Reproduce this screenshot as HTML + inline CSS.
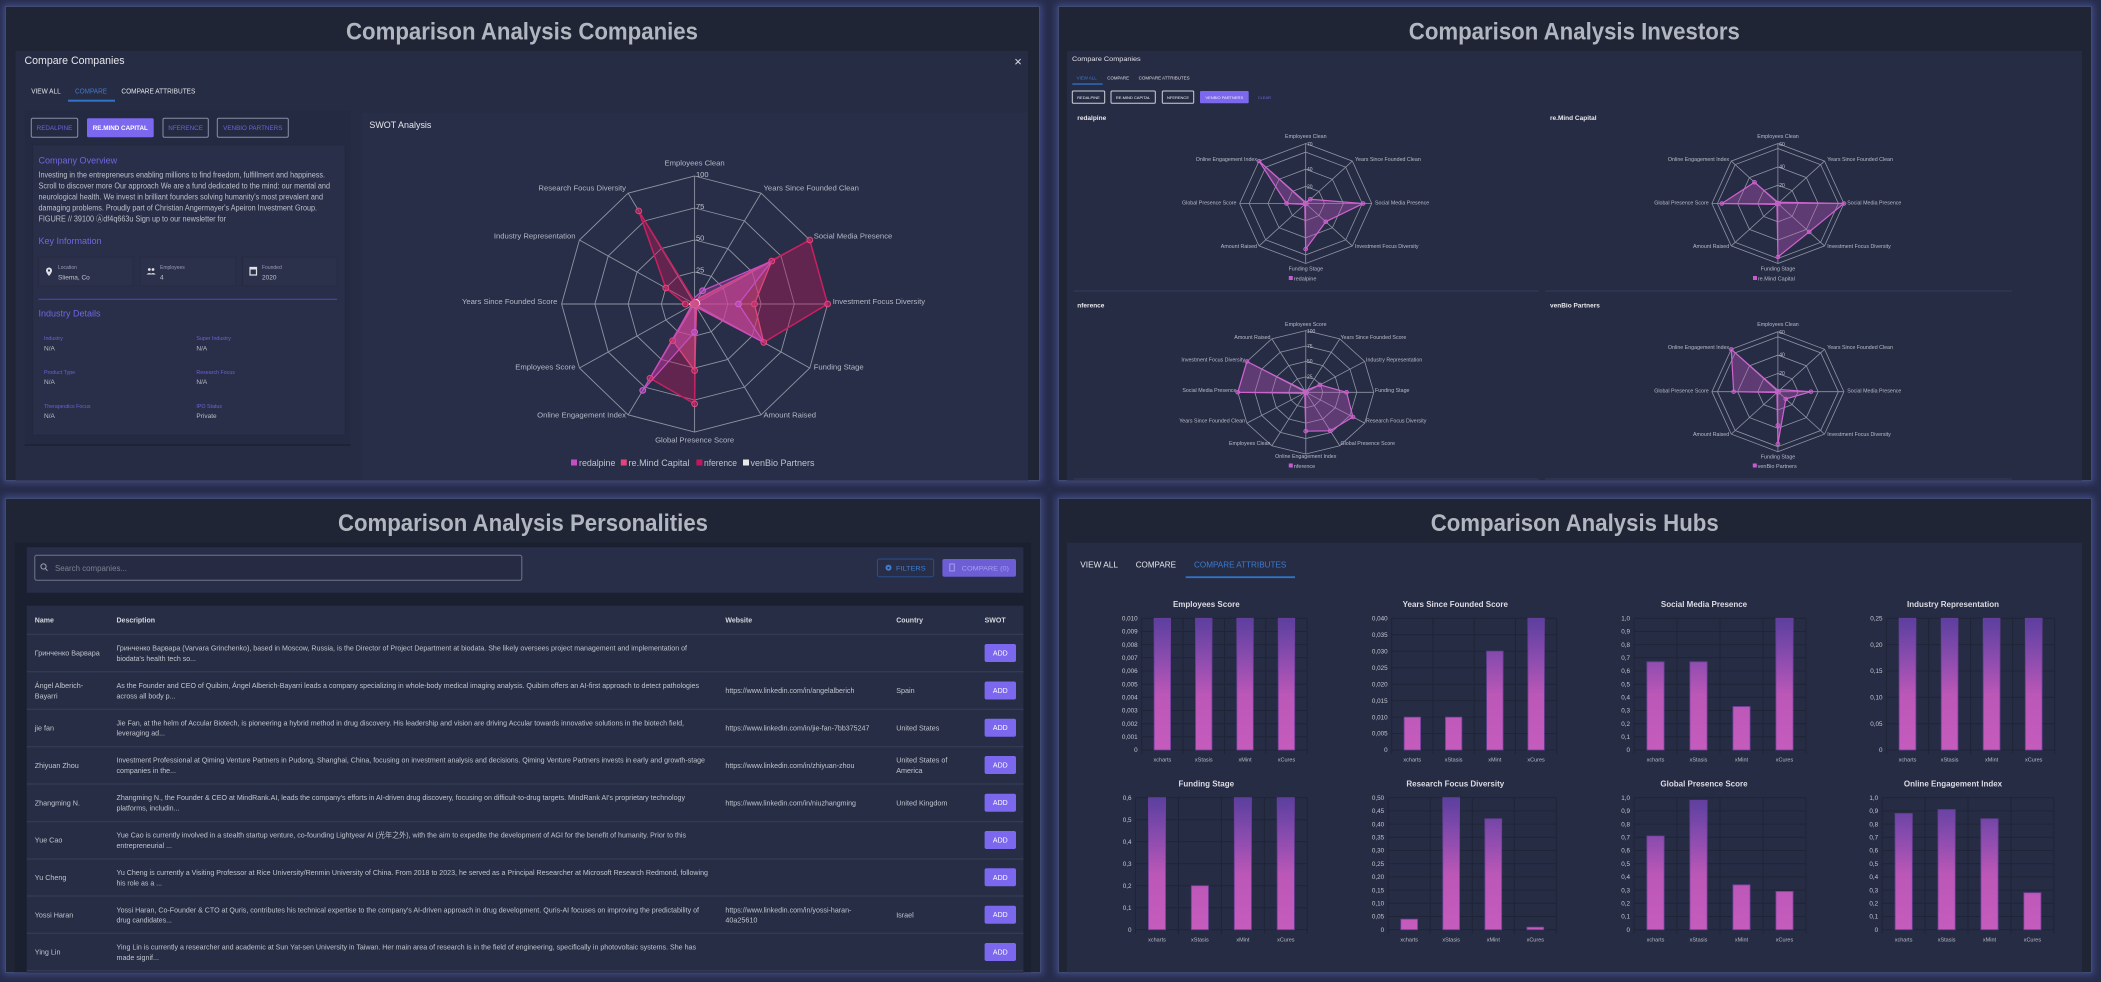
<!DOCTYPE html>
<html><head><meta charset="utf-8">
<style>
html,body{margin:0;padding:0;width:2101px;height:982px;overflow:hidden;background:#272d4c;}
.p{position:absolute;background:#1f2535;box-shadow:0 0 6px 2px rgba(78,92,168,.6);border:1px solid #414a70;box-sizing:border-box;}
svg{position:absolute;left:0;top:0;}
svg *{vector-effect:non-scaling-stroke;}
text{font-family:"Liberation Sans","Noto Sans CJK SC",sans-serif;}
</style></head><body>
<div class="p" style="left:5px;top:6px;width:1035px;height:475px"></div>
<div class="p" style="left:1058px;top:6px;width:1034px;height:475px"></div>
<div class="p" style="left:5px;top:498px;width:1036px;height:475px"></div>
<div class="p" style="left:1058px;top:498px;width:1034px;height:475px"></div>
<svg width="2101" height="982" viewBox="0 0 2101 982" xmlns="http://www.w3.org/2000/svg">
<defs>
<polygon id="d12" points="0,-1 .5,-.866 .866,-.5 1,0 .866,.5 .5,.866 0,1 -.5,.866 -.866,.5 -1,0 -.866,-.5 -.5,-.866"/>
<path id="s12" d="M0 0V-1M0 0L.5 -.866M0 0L.866 -.5M0 0H1M0 0L.866 .5M0 0L.5 .866M0 0V1M0 0L-.5 .866M0 0L-.866 .5M0 0H-1M0 0L-.866 -.5M0 0L-.5 -.866"/>
<polygon id="o8" points="0,-1 .707,-.707 1,0 .707,.707 0,1 -.707,.707 -1,0 -.707,-.707"/>
<path id="s8" d="M0 0V-1M0 0L.707 -.707M0 0H1M0 0L.707 .707M0 0V1M0 0L-.707 .707M0 0H-1M0 0L-.707 -.707"/>
<linearGradient id="g1" gradientUnits="userSpaceOnUse" x1="0" y1="618.3" x2="0" y2="750"><stop offset="0" stop-color="#5b3f9f"/><stop offset=".3" stop-color="#8a4cae"/><stop offset=".58" stop-color="#bb57b7"/><stop offset="1" stop-color="#c55cbd"/></linearGradient>
<linearGradient id="g2" gradientUnits="userSpaceOnUse" x1="0" y1="797.7" x2="0" y2="929.7"><stop offset="0" stop-color="#5b3f9f"/><stop offset=".3" stop-color="#8a4cae"/><stop offset=".58" stop-color="#bb57b7"/><stop offset="1" stop-color="#c55cbd"/></linearGradient>
</defs>

<!-- ============ TOP LEFT: Companies ============ -->
<text x="522" y="39.5" text-anchor="middle" font-size="24" font-weight="bold" fill="#b2b6c0" textLength="352" lengthAdjust="spacingAndGlyphs">Comparison Analysis Companies</text>
<rect x="15.6" y="51" width="1012.4" height="429.5" fill="#272c45"/>
<text x="24.5" y="64" font-size="11" fill="#e6e6ea" textLength="100" lengthAdjust="spacingAndGlyphs">Compare Companies</text>
<text x="1018" y="66" font-size="13" fill="#dcdce0" text-anchor="middle">×</text>
<text x="31.2" y="93.3" font-size="7" fill="#e6e6ea" textLength="29.5" lengthAdjust="spacingAndGlyphs">VIEW ALL</text>
<text x="75" y="93.3" font-size="7" fill="#3f78c8" textLength="32" lengthAdjust="spacingAndGlyphs">COMPARE</text>
<text x="121.4" y="93.3" font-size="7" fill="#e6e6ea" textLength="74" lengthAdjust="spacingAndGlyphs">COMPARE ATTRIBUTES</text>
<rect x="68" y="99.7" width="47" height="2" fill="#2f74c8"/>
<rect x="24.5" y="110" width="326" height="335" fill="#252a43"/>
<line x1="24.5" y1="445" x2="350.5" y2="445" stroke="#1c2134" stroke-width="1.5"/>
<rect x="31.3" y="118.3" width="46.4" height="19" rx="1.5" fill="none" stroke="#8a8ea3"/>
<text x="54.5" y="130" font-size="6.3" fill="#6c62d8" text-anchor="middle">REDALPINE</text>
<rect x="87" y="118.3" width="66.7" height="19" rx="1.5" fill="#7b68ee"/>
<text x="120.3" y="130" font-size="6.3" font-weight="bold" fill="#ffffff" text-anchor="middle">RE.MIND CAPITAL</text>
<rect x="163" y="118.3" width="45.3" height="19" rx="1.5" fill="none" stroke="#8a8ea3"/>
<text x="185.6" y="130" font-size="6.3" fill="#6c62d8" text-anchor="middle">NFERENCE</text>
<rect x="217.3" y="118.3" width="71" height="19" rx="1.5" fill="none" stroke="#8a8ea3"/>
<text x="252.8" y="130" font-size="6.3" fill="#6c62d8" text-anchor="middle">VENBIO PARTNERS</text>
<rect x="32.7" y="145" width="312.5" height="290" fill="#2a2f49" stroke="#23283e"/>
<text x="38.5" y="163.5" font-size="9.5" fill="#7066e0" textLength="78.6" lengthAdjust="spacingAndGlyphs">Company Overview</text>
<g font-size="7.8" fill="#bcc0ca">
<text x="38.5" y="177.3" textLength="286.5" lengthAdjust="spacingAndGlyphs">Investing in the entrepreneurs enabling millions to find freedom, fulfillment and happiness.</text>
<text x="38.5" y="188.6" textLength="291.5" lengthAdjust="spacingAndGlyphs">Scroll to discover more Our approach We are a fund dedicated to the mind: our mental and</text>
<text x="38.5" y="199.6" textLength="284.5" lengthAdjust="spacingAndGlyphs">neurological health. We invest in brilliant founders solving humanity's most prevalent and</text>
<text x="38.5" y="210.6" textLength="278.5" lengthAdjust="spacingAndGlyphs">damaging problems. Proudly part of Christian Angermayer's Apeiron Investment Group.</text>
<text x="38.5" y="221.3" textLength="187.5" lengthAdjust="spacingAndGlyphs">FIGURE // 39100 Ⓐdf4q663u Sign up to our newsletter for</text>
</g>
<text x="38.5" y="243.8" font-size="9.5" fill="#7066e0" textLength="63" lengthAdjust="spacingAndGlyphs">Key Information</text>
<rect x="38.4" y="257" width="94.6" height="29" fill="#2c314b" stroke="#252a40"/>
<rect x="140" y="257" width="96" height="29" fill="#2c314b" stroke="#252a40"/>
<rect x="242.4" y="257" width="94.6" height="29" fill="#2c314b" stroke="#252a40"/>
<path d="M49 267.5a3 3 0 0 1 3 3c0 2.2-3 5.5-3 5.5s-3-3.3-3-5.5a3 3 0 0 1 3-3z" fill="#e0e0e6"/>
<circle cx="49" cy="270.5" r="1.1" fill="#2c314b"/>
<circle cx="149.3" cy="269.5" r="1.4" fill="#e0e0e6"/><circle cx="153" cy="269.5" r="1.4" fill="#e0e0e6"/>
<path d="M146.5 274.5q2.8-3 5.6 0zM150.2 274.5q2.8-3 5.6 0z" fill="#e0e0e6"/>
<rect x="250" y="267.5" width="6.5" height="7.5" fill="none" stroke="#e0e0e6" stroke-width="1.2"/>
<rect x="250" y="267.5" width="6.5" height="2" fill="#e0e0e6"/>
<g font-size="5" fill="#9a9eb0"><text x="58" y="269">Location</text><text x="160" y="269">Employees</text><text x="262" y="269">Founded</text></g>
<g font-size="6.5" fill="#c0c4cc"><text x="58" y="279.3">Sliema, Co</text><text x="160" y="279.3">4</text><text x="262" y="279.3">2020</text></g>
<line x1="38.4" y1="299.3" x2="337" y2="299.3" stroke="#5046c0" stroke-width="1"/>
<text x="38.5" y="316.3" font-size="9.5" fill="#7066e0" textLength="62" lengthAdjust="spacingAndGlyphs">Industry Details</text>
<g font-size="5.3" fill="#6c60d8">
<text x="44" y="340">Industry</text><text x="196.4" y="340">Super Industry</text>
<text x="44" y="374">Product Type</text><text x="196.4" y="374">Research Focus</text>
<text x="44" y="408">Therapeutics Focus</text><text x="196.4" y="408">IPO Status</text>
</g>
<g font-size="6.5" fill="#b8bcc6">
<text x="44" y="350.5">N/A</text><text x="196.4" y="350.5">N/A</text>
<text x="44" y="384">N/A</text><text x="196.4" y="384">N/A</text>
<text x="44" y="418">N/A</text><text x="196.4" y="418">Private</text>
</g>
<rect x="362" y="113" width="666" height="367" fill="#282e48"/>
<text x="369.4" y="128" font-size="9.5" fill="#e8e8ee" textLength="62" lengthAdjust="spacingAndGlyphs">SWOT Analysis</text>
<g transform="translate(694.6 304) scale(133 128)">
 <g fill="none" stroke="#a0a4b2" stroke-width="0.9" opacity=".85">
  <use href="#d12"/><use href="#d12" transform="scale(.75)"/><use href="#d12" transform="scale(.5)"/><use href="#d12" transform="scale(.25)"/><use href="#s12"/>
 </g>
 <polygon points="0,-.02 .015,-.026 .866,-.5 1,0 .52,.3 .01,.017 0,.78 -.335,.58 -.017,.01 -.07,0 -.2165,-.125 -.42,-.727" fill="rgba(194,24,91,0.38)" stroke="#c8205f" stroke-width="1.5"/>
 <polygon points="0,-.03 .025,-.043 .58,-.335 .45,0 .52,.3 .015,.026 0,.52 -.165,.286 -.026,.015 -.03,0 -.026,-.015 -.015,-.026" fill="rgba(230,80,140,0.42)" stroke="#e0457b" stroke-width="1.3"/>
 <polygon points="0,-.05 .06,-.104 .58,-.335 .33,0 .52,.3 .01,.017 0,.22 -.39,.675 -.017,.01 -.02,0 -.017,-.01 -.01,-.017" fill="rgba(190,80,200,0.28)" stroke="#c44fc4" stroke-width="1.3"/>
 <polygon points="0,-.03 .02,-.035 .035,-.02 .04,0 .026,.015 .015,.026 0,.03 -.015,.026 -.026,.015 -.04,0 -.026,-.015 -.015,-.026" fill="rgba(230,230,230,0.3)" stroke="#dddddd" stroke-width="1"/>
 <g fill="rgba(200,40,100,.5)" stroke="#e04a80" stroke-width="1">
  <circle cx=".866" cy="-.5" r=".022"/><circle cx="1" cy="0" r=".022"/><circle cx=".52" cy=".3" r=".022"/><circle cx="0" cy=".78" r=".022"/><circle cx="-.335" cy=".58" r=".022"/><circle cx="-.2165" cy="-.125" r=".022"/><circle cx="-.42" cy="-.727" r=".022"/><circle cx="-.07" cy="0" r=".022"/>
  <circle cx=".58" cy="-.335" r=".022"/><circle cx=".45" cy="0" r=".022"/><circle cx="0" cy=".52" r=".022"/><circle cx="-.165" cy=".286" r=".022"/><circle cx="0" cy="0" r=".03"/>
 </g>
 <g fill="rgba(190,80,200,.5)" stroke="#d060d0" stroke-width="1">
  <circle cx=".33" cy="0" r=".022"/><circle cx="0" cy=".22" r=".022"/><circle cx="-.39" cy=".675" r=".022"/><circle cx=".06" cy="-.104" r=".022"/>
 </g>
</g>
<g font-size="7.5" fill="#c0c4cc"><text x="696" y="177">100</text><text x="696" y="209">75</text><text x="696" y="240.5">50</text><text x="696" y="272.5">25</text></g>
<g font-size="7.7" fill="#b4b8c4">
<text x="694.6" y="165.5" text-anchor="middle">Employees Clean</text>
<text x="763.5" y="190.5">Years Since Founded Clean</text>
<text x="813.7" y="238.5">Social Media Presence</text>
<text x="832.8" y="304">Investment Focus Diversity</text>
<text x="813.7" y="369.5">Funding Stage</text>
<text x="763.5" y="417.5">Amount Raised</text>
<text x="694.6" y="442.5" text-anchor="middle">Global Presence Score</text>
<text x="626" y="417.5" text-anchor="end">Online Engagement Index</text>
<text x="575.5" y="369.5" text-anchor="end">Employees Score</text>
<text x="557.4" y="304" text-anchor="end">Years Since Founded Score</text>
<text x="575.5" y="238.5" text-anchor="end">Industry Representation</text>
<text x="626" y="190.5" text-anchor="end">Research Focus Diversity</text>
</g>
<rect x="571" y="459.5" width="6" height="6" fill="#c44fc4"/>
<rect x="620.8" y="459.5" width="6" height="6" fill="#e0457b"/>
<rect x="696.4" y="459.5" width="6" height="6" fill="#c2185b"/>
<rect x="743" y="459.5" width="6" height="6" fill="#e8e8e8"/>
<g font-size="9" fill="#c0c4cc">
<text x="579" y="466" textLength="36.4" lengthAdjust="spacingAndGlyphs">redalpine</text>
<text x="628.5" y="466" textLength="61" lengthAdjust="spacingAndGlyphs">re.Mind Capital</text>
<text x="704" y="466" textLength="33" lengthAdjust="spacingAndGlyphs">nference</text>
<text x="750.5" y="466" textLength="64" lengthAdjust="spacingAndGlyphs">venBio Partners</text>
</g>

<!-- ============ TOP RIGHT: Investors ============ -->
<text x="1574.3" y="39.5" text-anchor="middle" font-size="24" font-weight="bold" fill="#b2b6c0" textLength="331" lengthAdjust="spacingAndGlyphs">Comparison Analysis Investors</text>
<rect x="1067" y="51" width="1015" height="429.5" fill="#272c45"/>
<text x="1072" y="61" font-size="6.5" fill="#e0e0e6" textLength="68.7" lengthAdjust="spacingAndGlyphs">Compare Companies</text>
<text x="1076.7" y="79.3" font-size="4.3" fill="#3f78c8" textLength="20" lengthAdjust="spacingAndGlyphs">VIEW ALL</text>
<text x="1107.3" y="79.3" font-size="4.3" fill="#e0e0e6" textLength="21.7" lengthAdjust="spacingAndGlyphs">COMPARE</text>
<text x="1138.7" y="79.3" font-size="4.3" fill="#e0e0e6" textLength="51" lengthAdjust="spacingAndGlyphs">COMPARE ATTRIBUTES</text>
<rect x="1072.3" y="83.4" width="30.4" height="1.3" fill="#2f74c8"/>
<g font-size="4" fill="#f0f0f4" text-anchor="middle">
<rect x="1072.3" y="91" width="32.4" height="12.3" rx="1" fill="none" stroke="#cfd0d8"/><text x="1088.5" y="98.8">REDALPINE</text>
<rect x="1111" y="91" width="44.3" height="12.3" rx="1" fill="none" stroke="#cfd0d8"/><text x="1133.1" y="98.8">RE.MIND CAPITAL</text>
<rect x="1162.3" y="91" width="31.4" height="12.3" rx="1" fill="none" stroke="#cfd0d8"/><text x="1178" y="98.8">NFERENCE</text>
<rect x="1200" y="91" width="48.7" height="12.3" rx="1" fill="#7b68ee"/><text x="1224.3" y="98.8">VENBIO PARTNERS</text>
</g>
<text x="1257.7" y="98.8" font-size="4" fill="#6f64e0">CLEAR</text>
<g font-size="6.5" font-weight="bold" fill="#e8e8ec">
<text x="1077.3" y="120">redalpine</text><text x="1550" y="120">re.Mind Capital</text>
<text x="1077.3" y="307.5">nference</text><text x="1550" y="307.5">venBio Partners</text>
</g>
<g stroke="#363c59" stroke-width="1">
<line x1="1073.7" y1="291" x2="1538.7" y2="291"/><line x1="1545" y1="291" x2="2012" y2="291"/>
<line x1="1073.7" y1="479" x2="1538.7" y2="479"/><line x1="1545" y1="479" x2="2012" y2="479"/>
</g>
<!-- radar 1 -->
<g transform="translate(1305.7 203.5) scale(66 60)">
 <g fill="none" stroke="#8e93a3" stroke-width="0.8"><use href="#o8"/><use href="#o8" transform="scale(.857)"/><use href="#o8" transform="scale(.5714)"/><use href="#o8" transform="scale(.2857)"/><use href="#s8"/></g>
 <polygon points="0,-.02 .071,-.071 .87,0 .304,.304 0,.76 -.014,.014 -.29,0 -.707,-.707" fill="rgba(200,90,200,0.35)" stroke="#d063d0" stroke-width="1.2"/>
 <g fill="rgba(200,90,200,.5)" stroke="#d063d0" stroke-width=".8"><circle cx=".87" cy="0" r=".03"/><circle cx=".304" cy=".304" r=".03"/><circle cx="0" cy=".76" r=".03"/><circle cx="-.29" cy="0" r=".03"/><circle cx="-.707" cy="-.707" r=".03"/><circle cx=".071" cy="-.071" r=".03"/><circle cx="0" cy="0" r=".04"/></g>
</g>
<!-- radar 2 -->
<g transform="translate(1777.9 203.5) scale(66 60)">
 <g fill="none" stroke="#8e93a3" stroke-width="0.8"><use href="#o8"/><use href="#o8" transform="scale(.916)"/><use href="#o8" transform="scale(.61)"/><use href="#o8" transform="scale(.305)"/><use href="#s8"/></g>
 <polygon points="0,-.02 .021,-.021 1,0 .474,.474 0,.89 -.014,.014 -.85,0 -.354,-.354" fill="rgba(200,90,200,0.35)" stroke="#d063d0" stroke-width="1.2"/>
 <g fill="rgba(200,90,200,.5)" stroke="#d063d0" stroke-width=".8"><circle cx="1" cy="0" r=".03"/><circle cx=".474" cy=".474" r=".03"/><circle cx="0" cy=".89" r=".03"/><circle cx="-.85" cy="0" r=".03"/><circle cx="-.354" cy="-.354" r=".03"/><circle cx="0" cy="0" r=".04"/></g>
</g>
<!-- radar 3 -->
<g transform="translate(1305.8 392.3) scale(68 61.7)">
 <g fill="none" stroke="#8e93a3" stroke-width="0.8"><use href="#d12"/><use href="#d12" transform="scale(.75)"/><use href="#d12" transform="scale(.5)"/><use href="#d12" transform="scale(.25)"/><use href="#s12"/></g>
 <polygon points="0,-.03 .025,-.043 .208,-.12 .6,0 .693,.4 .36,.624 0,.63 -.015,.026 -.026,.015 -1,0 -.866,-.5 -.015,-.026" fill="rgba(200,90,200,0.35)" stroke="#d063d0" stroke-width="1.2"/>
 <g fill="rgba(200,90,200,.5)" stroke="#d063d0" stroke-width=".8"><circle cx=".208" cy="-.12" r=".03"/><circle cx=".6" cy="0" r=".03"/><circle cx=".693" cy=".4" r=".03"/><circle cx=".36" cy=".624" r=".03"/><circle cx="0" cy=".63" r=".03"/><circle cx="-1" cy="0" r=".03"/><circle cx="-.866" cy="-.5" r=".03"/><circle cx="0" cy="0" r=".04"/></g>
</g>
<!-- radar 4 -->
<g transform="translate(1777.9 391.7) scale(66 60)">
 <g fill="none" stroke="#8e93a3" stroke-width="0.8"><use href="#o8"/><use href="#o8" transform="scale(.916)"/><use href="#o8" transform="scale(.61)"/><use href="#o8" transform="scale(.305)"/><use href="#s8"/></g>
 <polygon points="0,-.02 .035,-.035 .5,0 .12,.12 0,.87 -.014,.014 -.67,0 -.707,-.707" fill="rgba(200,90,200,0.35)" stroke="#d063d0" stroke-width="1.2"/>
 <g fill="rgba(200,90,200,.5)" stroke="#d063d0" stroke-width=".8"><circle cx=".5" cy="0" r=".03"/><circle cx=".12" cy=".12" r=".03"/><circle cx="0" cy=".87" r=".03"/><circle cx="0" cy=".56" r=".03"/><circle cx="-.67" cy="0" r=".03"/><circle cx="-.707" cy="-.707" r=".03"/><circle cx="0" cy="0" r=".04"/></g>
</g>
<g font-size="5" fill="#c0c4cc">
<text x="1307" y="146">70</text><text x="1307" y="171">40</text><text x="1307" y="188.5">20</text>
<text x="1779.2" y="146">60</text><text x="1779.2" y="168.5">40</text><text x="1779.2" y="187">20</text>
<text x="1307" y="333">100</text><text x="1307" y="348">75</text><text x="1307" y="363">50</text><text x="1307" y="378.5">25</text>
<text x="1779.2" y="334.2">60</text><text x="1779.2" y="356.7">40</text><text x="1779.2" y="375.2">20</text>
</g>
<g font-size="5.3" fill="#b8bcc6">
<text x="1305.8" y="138" text-anchor="middle">Employees Clean</text>
<text x="1355" y="161">Years Since Founded Clean</text>
<text x="1375" y="204.3">Social Media Presence</text>
<text x="1355" y="248">Investment Focus Diversity</text>
<text x="1305.8" y="270.3" text-anchor="middle">Funding Stage</text>
<text x="1257" y="248" text-anchor="end">Amount Raised</text>
<text x="1236.5" y="204.3" text-anchor="end">Global Presence Score</text>
<text x="1257" y="161" text-anchor="end">Online Engagement Index</text>

<text x="1778" y="138" text-anchor="middle">Employees Clean</text>
<text x="1827.2" y="161">Years Since Founded Clean</text>
<text x="1847.2" y="204.3">Social Media Presence</text>
<text x="1827.2" y="248">Investment Focus Diversity</text>
<text x="1778" y="270.3" text-anchor="middle">Funding Stage</text>
<text x="1729.2" y="248" text-anchor="end">Amount Raised</text>
<text x="1708.7" y="204.3" text-anchor="end">Global Presence Score</text>
<text x="1729.2" y="161" text-anchor="end">Online Engagement Index</text>

<text x="1778" y="326.2" text-anchor="middle">Employees Clean</text>
<text x="1827.2" y="349.2">Years Since Founded Clean</text>
<text x="1847.2" y="392.5">Social Media Presence</text>
<text x="1827.2" y="436.2">Investment Focus Diversity</text>
<text x="1778" y="458.5" text-anchor="middle">Funding Stage</text>
<text x="1729.2" y="436.2" text-anchor="end">Amount Raised</text>
<text x="1708.7" y="392.5" text-anchor="end">Global Presence Score</text>
<text x="1729.2" y="349.2" text-anchor="end">Online Engagement Index</text>

<text x="1305.8" y="326" text-anchor="middle">Employees Score</text>
<text x="1340.5" y="339">Years Since Founded Score</text>
<text x="1366" y="361.3">Industry Representation</text>
<text x="1375" y="392">Funding Stage</text>
<text x="1366" y="422.3">Research Focus Diversity</text>
<text x="1340.5" y="445">Global Presence Score</text>
<text x="1305.8" y="458" text-anchor="middle">Online Engagement Index</text>
<text x="1270.5" y="445" text-anchor="end">Employees Clean</text>
<text x="1245" y="422.3" text-anchor="end">Years Since Founded Clean</text>
<text x="1236.5" y="392" text-anchor="end">Social Media Presence</text>
<text x="1245" y="361.3" text-anchor="end">Investment Focus Diversity</text>
<text x="1270.5" y="339" text-anchor="end">Amount Raised</text>
</g>
<g fill="#c45ccf"><rect x="1288.8" y="276" width="4" height="4"/><rect x="1753" y="276" width="4" height="4"/><rect x="1288.8" y="463.5" width="4" height="4"/><rect x="1752.8" y="463.5" width="4" height="4"/></g>
<g font-size="5.5" fill="#b8bcc6">
<text x="1293.8" y="280.3">redalpine</text><text x="1757.8" y="280.3">re.Mind Capital</text>
<text x="1293.8" y="467.8">nference</text><text x="1757.6" y="467.8">venBio Partners</text>
</g>

<!-- ============ BOTTOM LEFT: Personalities ============ -->
<text x="523" y="531" text-anchor="middle" font-size="24" font-weight="bold" fill="#b2b6c0" textLength="370" lengthAdjust="spacingAndGlyphs">Comparison Analysis Personalities</text>
<rect x="14.7" y="542.7" width="1016.3" height="429.5" fill="#1b2030"/>
<rect x="26.8" y="547.3" width="996.6" height="45.4" fill="#282e47"/>
<rect x="34.8" y="555.3" width="487" height="25" rx="2" fill="#262b43" stroke="#70768a"/>
<circle cx="43.5" cy="566.5" r="2.6" fill="none" stroke="#9aa0b0" stroke-width="1"/>
<line x1="45.4" y1="568.5" x2="47.5" y2="570.8" stroke="#9aa0b0" stroke-width="1"/>
<text x="55" y="570.8" font-size="8" fill="#7c8090" textLength="72" lengthAdjust="spacingAndGlyphs">Search companies...</text>
<rect x="877.4" y="559" width="56.3" height="17.7" rx="2" fill="none" stroke="#2a4f88"/>
<circle cx="888.5" cy="567.8" r="3" fill="#3f7fd0"/><circle cx="888.5" cy="567.8" r="1.1" fill="#282e47"/>
<text x="896" y="570.5" font-size="6.8" fill="#3f7fd0" textLength="29.6" lengthAdjust="spacingAndGlyphs">FILTERS</text>
<rect x="942.4" y="559" width="73.6" height="17.7" rx="2" fill="#6d5ed6"/>
<rect x="949.8" y="564" width="4.5" height="7" fill="none" stroke="#a59cf0" stroke-width="1"/>
<text x="961.7" y="570.5" font-size="6.8" fill="#a89ef2" textLength="47.3" lengthAdjust="spacingAndGlyphs">COMPARE (0)</text>
<rect x="26.8" y="605.7" width="996.6" height="367" fill="#272d45"/>
<g font-size="7" font-weight="bold" fill="#d6d8de">
<text x="34.8" y="622.7">Name</text><text x="116.5" y="622.7">Description</text><text x="725.4" y="622.7">Website</text><text x="896.2" y="622.7">Country</text><text x="984.6" y="622.7">SWOT</text>
</g>
<g stroke="#383e58" stroke-width="1">
<line x1="26.8" y1="634.3" x2="1023.4" y2="634.3"/><line x1="26.8" y1="671.7" x2="1023.4" y2="671.7"/><line x1="26.8" y1="709.3" x2="1023.4" y2="709.3"/><line x1="26.8" y1="746.7" x2="1023.4" y2="746.7"/><line x1="26.8" y1="784" x2="1023.4" y2="784"/><line x1="26.8" y1="821.7" x2="1023.4" y2="821.7"/><line x1="26.8" y1="859" x2="1023.4" y2="859"/><line x1="26.8" y1="896" x2="1023.4" y2="896"/><line x1="26.8" y1="933.3" x2="1023.4" y2="933.3"/><line x1="26.8" y1="970.7" x2="1023.4" y2="970.7"/>
</g>
<g font-size="7.2" fill="#c2c6ce">
<text x="34.8" y="655.6">Гринченко Варвара</text>
<text x="116.5" y="650.6" textLength="570.5" lengthAdjust="spacingAndGlyphs">Гринченко Варвара (Varvara Grinchenko), based in Moscow, Russia, is the Director of Project Department at biodata. She likely oversees project management and implementation of</text>
<text x="116.5" y="660.9" textLength="79.5" lengthAdjust="spacingAndGlyphs">biodata's health tech so...</text>

<text x="34.8" y="688">Ángel Alberich-</text><text x="34.8" y="698.3">Bayarri</text>
<text x="116.5" y="688" textLength="582.5" lengthAdjust="spacingAndGlyphs">As the Founder and CEO of Quibim, Ángel Alberich-Bayarri leads a company specializing in whole-body medical imaging analysis. Quibim offers an AI-first approach to detect pathologies</text>
<text x="116.5" y="698.3" textLength="59" lengthAdjust="spacingAndGlyphs">across all body p...</text>
<text x="725.4" y="693" textLength="129" lengthAdjust="spacingAndGlyphs">https://www.linkedin.com/in/angelalberich</text><text x="896.2" y="693">Spain</text>

<text x="34.8" y="730.3">jie fan</text>
<text x="116.5" y="725.3" textLength="567.5" lengthAdjust="spacingAndGlyphs">Jie Fan, at the helm of Accular Biotech, is pioneering a hybrid method in drug discovery. His leadership and vision are driving Accular towards innovative solutions in the biotech field,</text>
<text x="116.5" y="735.6" textLength="48.5" lengthAdjust="spacingAndGlyphs">leveraging ad...</text>
<text x="725.4" y="730.3" textLength="144" lengthAdjust="spacingAndGlyphs">https://www.linkedin.com/in/jie-fan-7bb375247</text><text x="896.2" y="730.3">United States</text>

<text x="34.8" y="767.8">Zhiyuan Zhou</text>
<text x="116.5" y="762.6" textLength="588.5" lengthAdjust="spacingAndGlyphs">Investment Professional at Qiming Venture Partners in Pudong, Shanghai, China, focusing on investment analysis and decisions. Qiming Venture Partners invests in early and growth-stage</text>
<text x="116.5" y="773" textLength="59.5" lengthAdjust="spacingAndGlyphs">companies in the...</text>
<text x="725.4" y="767.8" textLength="129" lengthAdjust="spacingAndGlyphs">https://www.linkedin.com/in/zhiyuan-zhou</text><text x="896.2" y="762.6">United States of</text><text x="896.2" y="773">America</text>

<text x="34.8" y="805.3">Zhangming N.</text>
<text x="116.5" y="800" textLength="568.5" lengthAdjust="spacingAndGlyphs">Zhangming N., the Founder &amp; CEO at MindRank.AI, leads the company's efforts in AI-driven drug discovery, focusing on difficult-to-drug targets. MindRank AI's proprietary technology</text>
<text x="116.5" y="810.3" textLength="63" lengthAdjust="spacingAndGlyphs">platforms, includin...</text>
<text x="725.4" y="805.3" textLength="130.6" lengthAdjust="spacingAndGlyphs">https://www.linkedin.com/in/niuzhangming</text><text x="896.2" y="805.3">United Kingdom</text>

<text x="34.8" y="842.6">Yue Cao</text>
<text x="116.5" y="837.3" textLength="569.5" lengthAdjust="spacingAndGlyphs">Yue Cao is currently involved in a stealth startup venture, co-founding Lightyear AI (光年之外), with the aim to expedite the development of AGI for the benefit of humanity. Prior to this</text>
<text x="116.5" y="848" textLength="55.5" lengthAdjust="spacingAndGlyphs">entrepreneurial ...</text>

<text x="34.8" y="880">Yu Cheng</text>
<text x="116.5" y="875" textLength="591.5" lengthAdjust="spacingAndGlyphs">Yu Cheng is currently a Visiting Professor at Rice University/Renmin University of China. From 2018 to 2023, he served as a Principal Researcher at Microsoft Research Redmond, following</text>
<text x="116.5" y="885.3" textLength="45.5" lengthAdjust="spacingAndGlyphs">his role as a ...</text>

<text x="34.8" y="917.3">Yossi Haran</text>
<text x="116.5" y="912.3" textLength="582.5" lengthAdjust="spacingAndGlyphs">Yossi Haran, Co-Founder &amp; CTO at Quris, contributes his technical expertise to the company's AI-driven approach in drug development. Quris-AI focuses on improving the predictability of</text>
<text x="116.5" y="922.6" textLength="55.5" lengthAdjust="spacingAndGlyphs">drug candidates...</text>
<text x="725.4" y="912.3" textLength="126" lengthAdjust="spacingAndGlyphs">https://www.linkedin.com/in/yossi-haran-</text><text x="725.4" y="922.6">40a25610</text><text x="896.2" y="917.3">Israel</text>

<text x="34.8" y="954.6">Ying Lin</text>
<text x="116.5" y="949.6" textLength="579.5" lengthAdjust="spacingAndGlyphs">Ying Lin is currently a researcher and academic at Sun Yat-sen University in Taiwan. Her main area of research is in the field of engineering, specifically in photovoltaic systems. She has</text>
<text x="116.5" y="960" textLength="42.5" lengthAdjust="spacingAndGlyphs">made signif...</text>
</g>
<g fill="#7b68ee">
<rect x="984.6" y="644" width="31.4" height="18" rx="2"/><rect x="984.6" y="681.5" width="31.4" height="18" rx="2"/><rect x="984.6" y="718.7" width="31.4" height="18" rx="2"/><rect x="984.6" y="756" width="31.4" height="18" rx="2"/><rect x="984.6" y="793.7" width="31.4" height="18" rx="2"/><rect x="984.6" y="831" width="31.4" height="18" rx="2"/><rect x="984.6" y="868.3" width="31.4" height="18" rx="2"/><rect x="984.6" y="905.7" width="31.4" height="18" rx="2"/><rect x="984.6" y="943" width="31.4" height="18" rx="2"/>
</g>
<g font-size="7" fill="#ffffff" text-anchor="middle">
<text x="1000.3" y="655.5">ADD</text><text x="1000.3" y="693">ADD</text><text x="1000.3" y="730.2">ADD</text><text x="1000.3" y="767.5">ADD</text><text x="1000.3" y="805.2">ADD</text><text x="1000.3" y="842.5">ADD</text><text x="1000.3" y="879.8">ADD</text><text x="1000.3" y="917.2">ADD</text><text x="1000.3" y="954.5">ADD</text>
</g>

<!-- ============ BOTTOM RIGHT: Hubs ============ -->
<text x="1574.7" y="531" text-anchor="middle" font-size="24" font-weight="bold" fill="#b2b6c0" textLength="288" lengthAdjust="spacingAndGlyphs">Comparison Analysis Hubs</text>
<rect x="1067" y="542.7" width="1015" height="429.5" fill="#272c45"/>
<text x="1080.3" y="567.5" font-size="8.3" fill="#e8e8ec" textLength="37.7" lengthAdjust="spacingAndGlyphs">VIEW ALL</text>
<text x="1135.7" y="567.5" font-size="8.3" fill="#e8e8ec" textLength="40.3" lengthAdjust="spacingAndGlyphs">COMPARE</text>
<text x="1194" y="567.5" font-size="8.3" fill="#3a7cd0" textLength="92.3" lengthAdjust="spacingAndGlyphs">COMPARE ATTRIBUTES</text>
<rect x="1185.7" y="576.3" width="109.3" height="1.8" fill="#2f74c8"/>
<g font-size="8" font-weight="bold" fill="#dcdce2" text-anchor="middle">
<text x="1206.3" y="607">Employees Score</text><text x="1455.3" y="607">Years Since Founded Score</text><text x="1704" y="607">Social Media Presence</text><text x="1953" y="607">Industry Representation</text>
<text x="1206.3" y="786.7">Funding Stage</text><text x="1455.3" y="786.7">Research Focus Diversity</text><text x="1704" y="786.7">Global Presence Score</text><text x="1953" y="786.7">Online Engagement Index</text>
</g>
<g stroke="#1f2437" stroke-width="1" fill="none">
<path d="M1141.7 750H1307.2M1141.7 736.8H1307.2M1141.7 723.7H1307.2M1141.7 710.5H1307.2M1141.7 697.3H1307.2M1141.7 684.2H1307.2M1141.7 671H1307.2M1141.7 657.8H1307.2M1141.7 644.6H1307.2M1141.7 631.5H1307.2M1141.7 618.3H1307.2M1141.7 618.3V754M1183.1 618.3V754M1224.5 618.3V754M1265.8 618.3V754M1307.2 618.3V754"/>
<path d="M1391.7 750H1556.7M1391.7 733.5H1556.7M1391.7 717.1H1556.7M1391.7 700.6H1556.7M1391.7 684.2H1556.7M1391.7 667.7H1556.7M1391.7 651.2H1556.7M1391.7 634.8H1556.7M1391.7 618.3H1556.7M1391.7 618.3V754M1432.95 618.3V754M1474.2 618.3V754M1515.45 618.3V754M1556.7 618.3V754"/>
<path d="M1634 750H1806M1634 736.8H1806M1634 723.7H1806M1634 710.5H1806M1634 697.3H1806M1634 684.2H1806M1634 671H1806M1634 657.8H1806M1634 644.6H1806M1634 631.5H1806M1634 618.3H1806M1634 618.3V754M1677 618.3V754M1720 618.3V754M1763 618.3V754M1806 618.3V754"/>
<path d="M1886.5 750H2054.7M1886.5 723.7H2054.7M1886.5 697.3H2054.7M1886.5 671H2054.7M1886.5 644.6H2054.7M1886.5 618.3H2054.7M1886.5 618.3V754M1928.55 618.3V754M1970.6 618.3V754M2012.65 618.3V754M2054.7 618.3V754"/>
<path d="M1135.5 929.7H1307.3M1135.5 907.7H1307.3M1135.5 885.7H1307.3M1135.5 863.7H1307.3M1135.5 841.7H1307.3M1135.5 819.7H1307.3M1135.5 797.7H1307.3M1135.5 797.7V933.7M1178.45 797.7V933.7M1221.4 797.7V933.7M1264.35 797.7V933.7M1307.3 797.7V933.7"/>
<path d="M1388.2 929.7H1556.3M1388.2 916.5H1556.3M1388.2 903.3H1556.3M1388.2 890.1H1556.3M1388.2 876.9H1556.3M1388.2 863.7H1556.3M1388.2 850.5H1556.3M1388.2 837.3H1556.3M1388.2 824.1H1556.3M1388.2 810.9H1556.3M1388.2 797.7H1556.3M1388.2 797.7V933.7M1430.2 797.7V933.7M1472.25 797.7V933.7M1514.3 797.7V933.7M1556.3 797.7V933.7"/>
<path d="M1634 929.7H1806M1634 916.5H1806M1634 903.3H1806M1634 890.1H1806M1634 876.9H1806M1634 863.7H1806M1634 850.5H1806M1634 837.3H1806M1634 824.1H1806M1634 810.9H1806M1634 797.7H1806M1634 797.7V933.7M1677 797.7V933.7M1720 797.7V933.7M1763 797.7V933.7M1806 797.7V933.7"/>
<path d="M1882.2 929.7H2053.8M1882.2 916.5H2053.8M1882.2 903.3H2053.8M1882.2 890.1H2053.8M1882.2 876.9H2053.8M1882.2 863.7H2053.8M1882.2 850.5H2053.8M1882.2 837.3H2053.8M1882.2 824.1H2053.8M1882.2 810.9H2053.8M1882.2 797.7H2053.8M1882.2 797.7V933.7M1925.1 797.7V933.7M1968 797.7V933.7M2010.9 797.7V933.7M2053.8 797.7V933.7"/>
</g>
<g fill="url(#g1)" stroke="#6a3f98" stroke-width="0.8">
<rect x="1154.1" y="618.3" width="16.5" height="131.7"/><rect x="1195.5" y="618.3" width="16.5" height="131.7"/><rect x="1236.8" y="618.3" width="16.5" height="131.7"/><rect x="1278.2" y="618.3" width="16.5" height="131.7"/>
<rect x="1404.1" y="717.1" width="16.5" height="32.9"/><rect x="1445.4" y="717.1" width="16.5" height="32.9"/><rect x="1486.6" y="651.2" width="16.5" height="98.8"/><rect x="1527.9" y="618.3" width="16.5" height="131.7"/>
<rect x="1646.9" y="661.8" width="17.2" height="88.2"/><rect x="1689.9" y="661.8" width="17.2" height="88.2"/><rect x="1732.9" y="706.5" width="17.2" height="43.5"/><rect x="1775.9" y="618.3" width="17.2" height="131.7"/>
<rect x="1899.1" y="618.3" width="16.8" height="131.7"/><rect x="1941.2" y="618.3" width="16.8" height="131.7"/><rect x="1983.2" y="618.3" width="16.8" height="131.7"/><rect x="2025.3" y="618.3" width="16.8" height="131.7"/>
</g>
<g fill="url(#g2)" stroke="#6a3f98" stroke-width="0.8">
<rect x="1148.4" y="797.7" width="17.2" height="132"/><rect x="1191.3" y="885.7" width="17.2" height="44"/><rect x="1234.3" y="797.7" width="17.2" height="132"/><rect x="1277.2" y="797.7" width="17.2" height="132"/>
<rect x="1400.8" y="919.1" width="16.8" height="10.6"/><rect x="1442.8" y="797.7" width="16.8" height="132"/><rect x="1484.9" y="818.8" width="16.8" height="110.9"/><rect x="1526.9" y="927.1" width="16.8" height="2.6"/>
<rect x="1646.9" y="836" width="17.2" height="93.7"/><rect x="1689.9" y="800.3" width="17.2" height="129.4"/><rect x="1732.9" y="884.8" width="17.2" height="44.9"/><rect x="1775.9" y="891.4" width="17.2" height="38.3"/>
<rect x="1895.1" y="813.5" width="17.2" height="116.2"/><rect x="1938" y="809.6" width="17.2" height="120.1"/><rect x="1980.9" y="818.8" width="17.2" height="110.9"/><rect x="2023.8" y="892.7" width="17.2" height="37"/>
</g>
<g font-size="6.3" fill="#c4c8d0" text-anchor="end">
<text x="1137.7" y="752.2">0</text><text x="1137.7" y="739">0,001</text><text x="1137.7" y="725.9">0,002</text><text x="1137.7" y="712.7">0,003</text><text x="1137.7" y="699.5">0,004</text><text x="1137.7" y="686.4">0,005</text><text x="1137.7" y="673.2">0,006</text><text x="1137.7" y="660">0,007</text><text x="1137.7" y="646.8">0,008</text><text x="1137.7" y="633.7">0,009</text><text x="1137.7" y="620.5">0,010</text>
<text x="1387.7" y="752.2">0</text><text x="1387.7" y="735.7">0,005</text><text x="1387.7" y="719.3">0,010</text><text x="1387.7" y="702.8">0,015</text><text x="1387.7" y="686.4">0,020</text><text x="1387.7" y="669.9">0,025</text><text x="1387.7" y="653.4">0,030</text><text x="1387.7" y="637">0,035</text><text x="1387.7" y="620.5">0,040</text>
<text x="1630" y="752.2">0</text><text x="1630" y="739">0,1</text><text x="1630" y="725.9">0,2</text><text x="1630" y="712.7">0,3</text><text x="1630" y="699.5">0,4</text><text x="1630" y="686.4">0,5</text><text x="1630" y="673.2">0,6</text><text x="1630" y="660">0,7</text><text x="1630" y="646.8">0,8</text><text x="1630" y="633.7">0,9</text><text x="1630" y="620.5">1,0</text>
<text x="1882.5" y="752.2">0</text><text x="1882.5" y="725.9">0,05</text><text x="1882.5" y="699.5">0,10</text><text x="1882.5" y="673.2">0,15</text><text x="1882.5" y="646.8">0,20</text><text x="1882.5" y="620.5">0,25</text>
<text x="1131.5" y="931.9">0</text><text x="1131.5" y="909.9">0,1</text><text x="1131.5" y="887.9">0,2</text><text x="1131.5" y="865.9">0,3</text><text x="1131.5" y="843.9">0,4</text><text x="1131.5" y="821.9">0,5</text><text x="1131.5" y="799.9">0,6</text>
<text x="1384.2" y="931.9">0</text><text x="1384.2" y="918.7">0,05</text><text x="1384.2" y="905.5">0,10</text><text x="1384.2" y="892.3">0,15</text><text x="1384.2" y="879.1">0,20</text><text x="1384.2" y="865.9">0,25</text><text x="1384.2" y="852.7">0,30</text><text x="1384.2" y="839.5">0,35</text><text x="1384.2" y="826.3">0,40</text><text x="1384.2" y="813.1">0,45</text><text x="1384.2" y="799.9">0,50</text>
<text x="1630" y="931.9">0</text><text x="1630" y="918.7">0,1</text><text x="1630" y="905.5">0,2</text><text x="1630" y="892.3">0,3</text><text x="1630" y="879.1">0,4</text><text x="1630" y="865.9">0,5</text><text x="1630" y="852.7">0,6</text><text x="1630" y="839.5">0,7</text><text x="1630" y="826.3">0,8</text><text x="1630" y="813.1">0,9</text><text x="1630" y="799.9">1,0</text>
<text x="1878.2" y="931.9">0</text><text x="1878.2" y="918.7">0,1</text><text x="1878.2" y="905.5">0,2</text><text x="1878.2" y="892.3">0,3</text><text x="1878.2" y="879.1">0,4</text><text x="1878.2" y="865.9">0,5</text><text x="1878.2" y="852.7">0,6</text><text x="1878.2" y="839.5">0,7</text><text x="1878.2" y="826.3">0,8</text><text x="1878.2" y="813.1">0,9</text><text x="1878.2" y="799.9">1,0</text>
</g>
<g font-size="5.5" fill="#b8bcc6" text-anchor="middle">
<text x="1162.4" y="761.5">xcharts</text><text x="1203.8" y="761.5">xStasis</text><text x="1245.1" y="761.5">xMint</text><text x="1286.5" y="761.5">xCures</text>
<text x="1412.3" y="761.5">xcharts</text><text x="1453.6" y="761.5">xStasis</text><text x="1494.8" y="761.5">xMint</text><text x="1536.1" y="761.5">xCures</text>
<text x="1655.5" y="761.5">xcharts</text><text x="1698.5" y="761.5">xStasis</text><text x="1741.5" y="761.5">xMint</text><text x="1784.5" y="761.5">xCures</text>
<text x="1907.5" y="761.5">xcharts</text><text x="1949.6" y="761.5">xStasis</text><text x="1991.6" y="761.5">xMint</text><text x="2033.7" y="761.5">xCures</text>
<text x="1157" y="941.5">xcharts</text><text x="1199.9" y="941.5">xStasis</text><text x="1242.9" y="941.5">xMint</text><text x="1285.8" y="941.5">xCures</text>
<text x="1409.2" y="941.5">xcharts</text><text x="1451.2" y="941.5">xStasis</text><text x="1493.3" y="941.5">xMint</text><text x="1535.3" y="941.5">xCures</text>
<text x="1655.5" y="941.5">xcharts</text><text x="1698.5" y="941.5">xStasis</text><text x="1741.5" y="941.5">xMint</text><text x="1784.5" y="941.5">xCures</text>
<text x="1903.6" y="941.5">xcharts</text><text x="1946.6" y="941.5">xStasis</text><text x="1989.5" y="941.5">xMint</text><text x="2032.4" y="941.5">xCures</text>
</g>
</svg>
</body></html>
